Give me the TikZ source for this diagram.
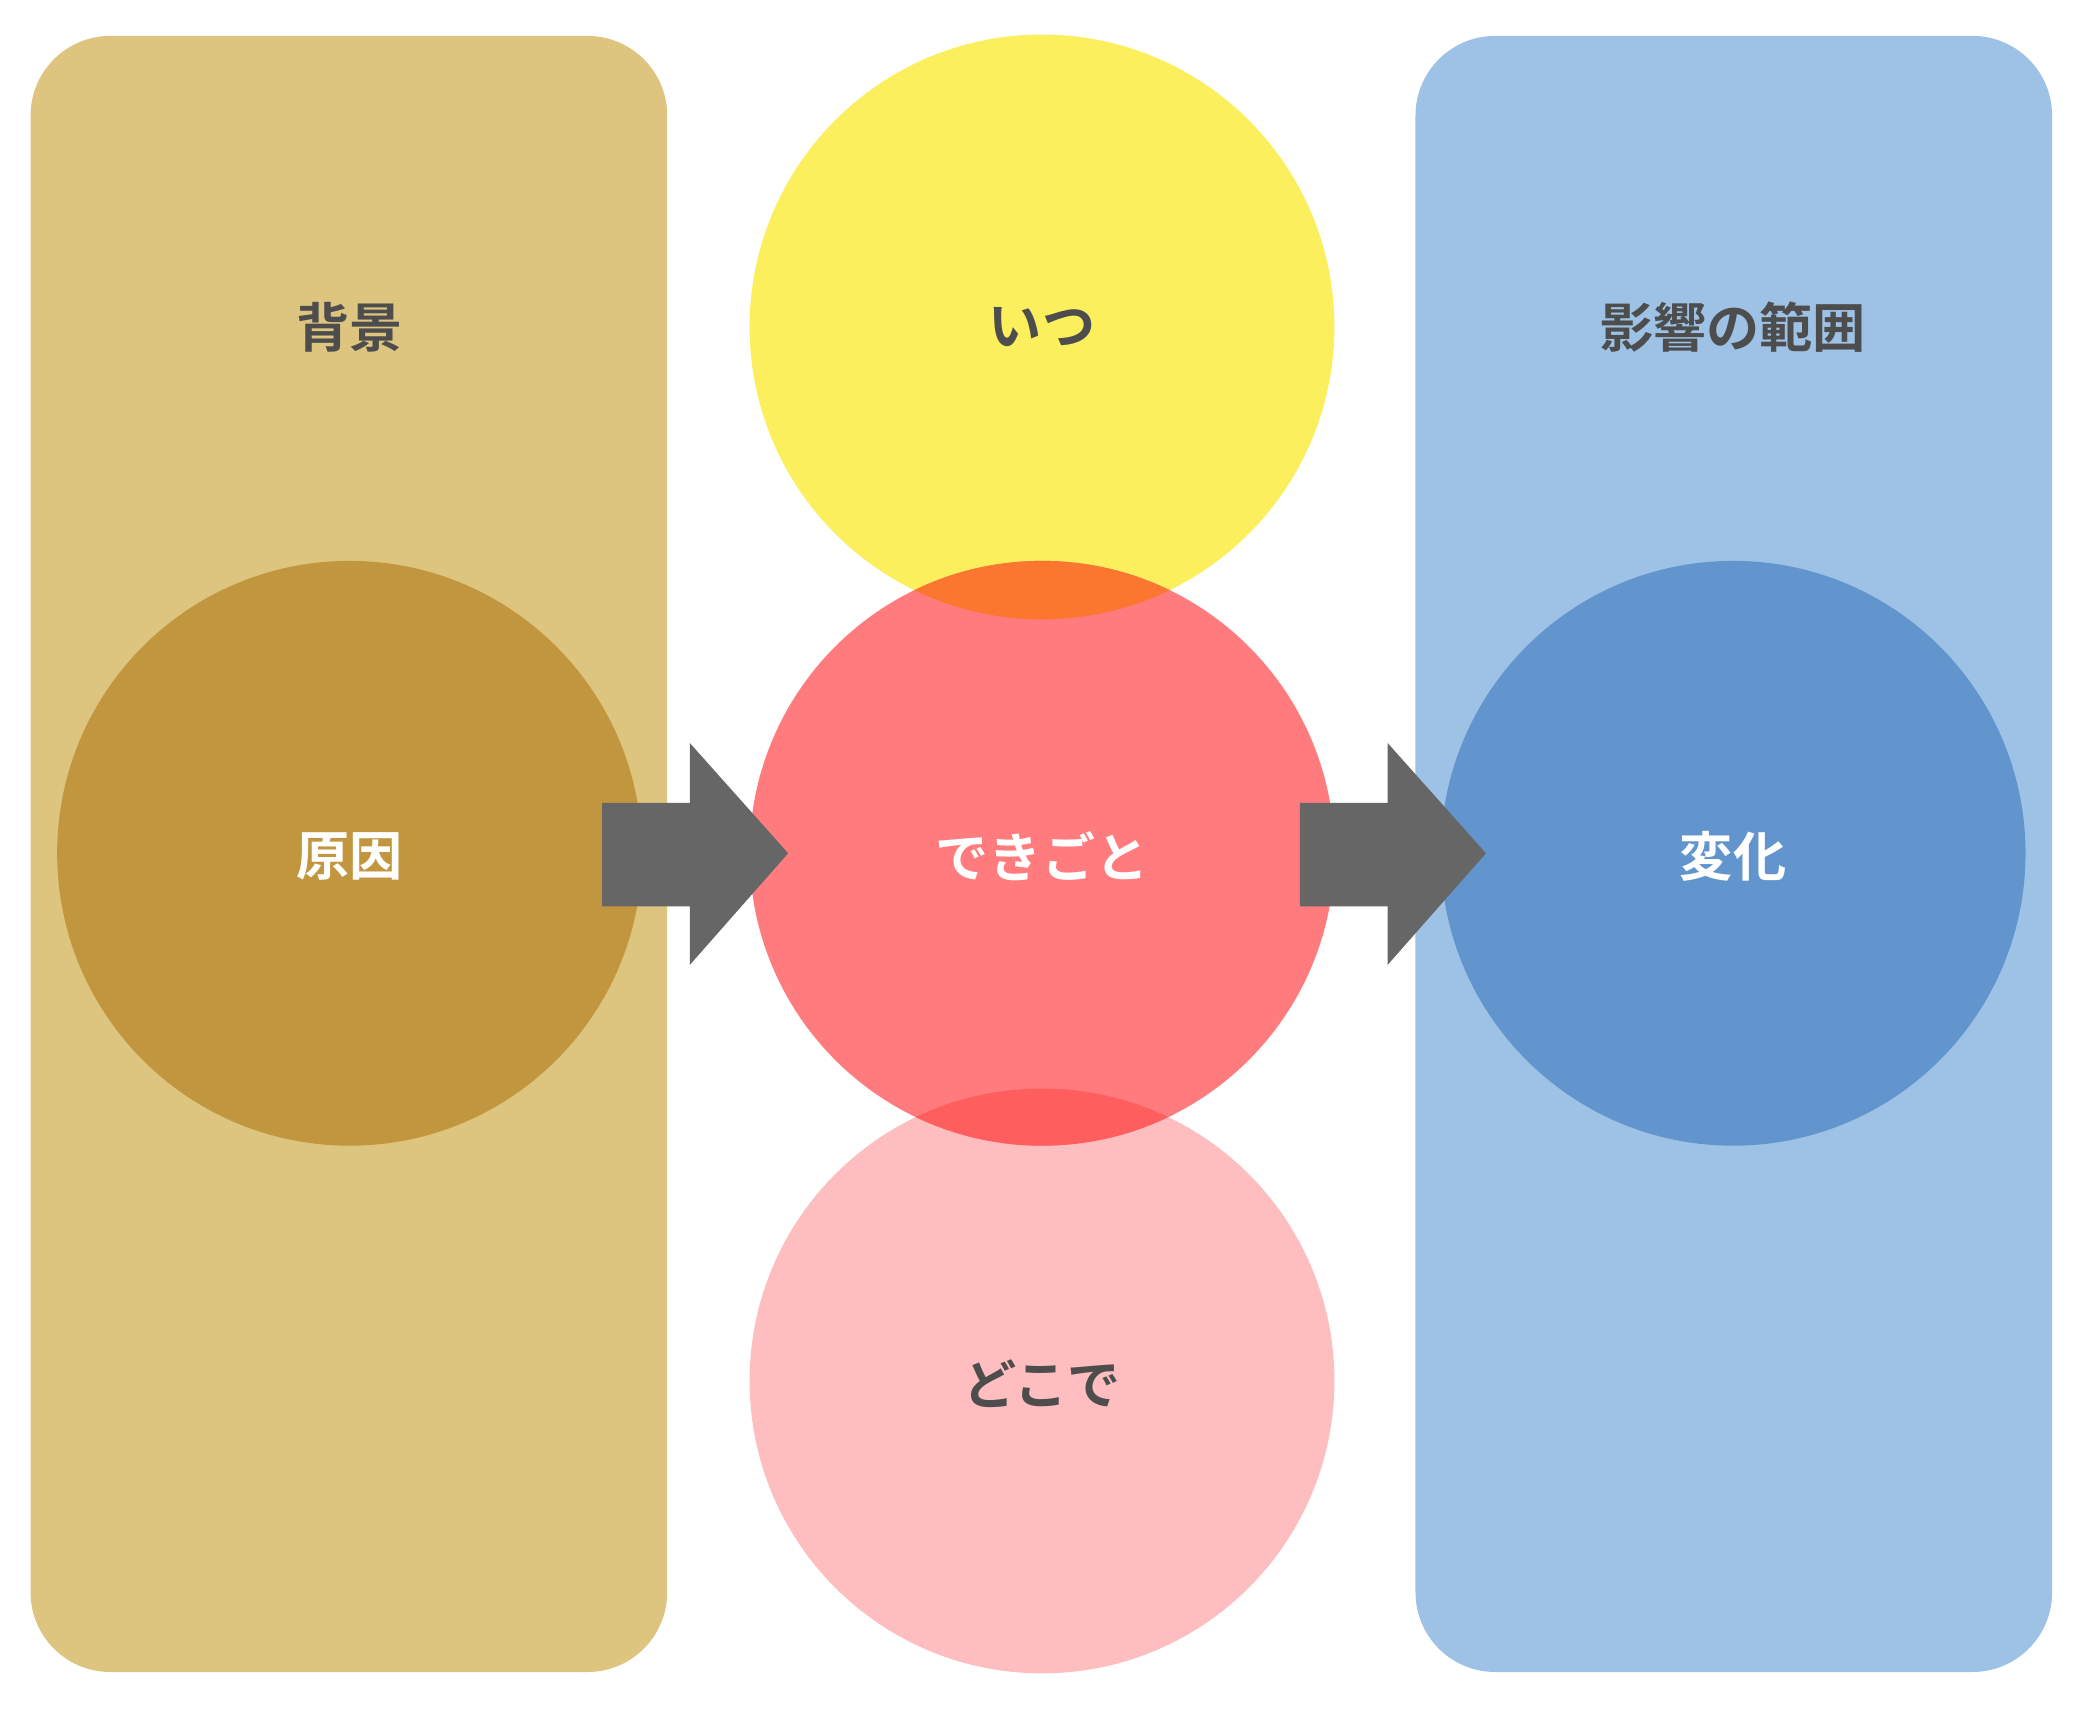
\documentclass[tikz,border=0pt]{standalone}
\usepackage{fontspec}
\newfontfamily\cjk{Noto Sans CJK JP}[BoldFont={Noto Sans CJK JP Bold}]
\definecolor{panelL}{HTML}{DDC47F}
\definecolor{panelR}{HTML}{9EC2E6}
\definecolor{cyel}{HTML}{FCEF5E}
\definecolor{cred}{HTML}{FF7B7D}
\definecolor{cpink}{HTML}{FEBDBE}
\definecolor{corange}{HTML}{FB762E}
\definecolor{cred2}{HTML}{FF5E5F}
\definecolor{cbrown}{HTML}{C1963F}
\definecolor{cblue}{HTML}{6295CE}
\definecolor{txt}{HTML}{4D4D4D}
\definecolor{arr}{HTML}{666666}
\begin{document}
\begin{tikzpicture}[x=1pt,y=-1pt,
  lbl/.style={font=\cjk\bfseries\fontsize{40}{48}\selectfont},
  dark/.style={lbl,text=txt},
  light/.style={lbl,text=white}]
\useasboundingbox (0,0) rectangle (1568,1286);
\fill[white] (0,0) rectangle (1568,1286);
\fill[panelL,rounded corners=60pt] (23,27) rectangle (502,1258);
\fill[panelR,rounded corners=60pt] (1065,27) rectangle (1544,1258);
\fill[cyel] (784,246) circle (220);
\fill[cpink] (784,1039) circle (220);
\fill[cred] (784,642) circle (220);
\begin{scope}\clip (784,246) circle (220); \fill[corange] (784,642) circle (220);\end{scope}
\begin{scope}\clip (784,1039) circle (220); \fill[cred2] (784,642) circle (220);\end{scope}
\fill[cbrown] (263,642) circle (220);
\fill[cblue] (1304,642) circle (220);
\fill[arr] (453,604) -- (519,604) -- (519,559) -- (593,642) -- (519,726) -- (519,682) -- (453,682) -- cycle;
\fill[arr] (978,604) -- (1044,604) -- (1044,559) -- (1118,642) -- (1044,726) -- (1044,682) -- (978,682) -- cycle;
\node[dark] (bg) at (263,246) {背景};
\node[dark] (when) at (784,246) {いつ};
\node[dark] (scope) at (1304,246) {影響の範囲};
\node[light] (cause) at (263,644) {原因};
\node[light] (event) at (784,644) {できごと};
\node[light] (change) at (1304,644) {変化};
\node[dark] (where) at (784,1041) {どこで};
\end{tikzpicture}
\end{document}
